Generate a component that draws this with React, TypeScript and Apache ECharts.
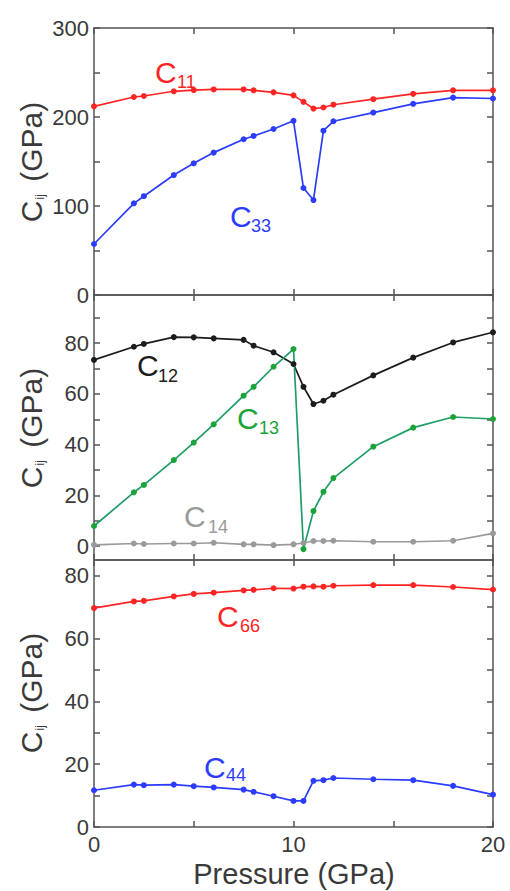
import React, { useEffect, useRef } from 'react';
import * as echarts from 'echarts';

const pressure = [0, 2, 2.5, 4, 5, 6, 7.5, 8, 9, 10, 10.5, 11, 11.5, 12, 14, 16, 18, 20];
const c11 = [212, 222.5, 223.6, 228.9, 230.3, 231, 231, 230, 227.7, 224.3, 217, 209.5, 210.7, 213.8, 220, 226, 230, 230];
const c33 = [57.3, 103, 111, 134.8, 148, 160, 175, 178.7, 186.5, 195.7, 120.2, 106.7, 184.6, 195.2, 205, 214.8, 221.8, 220.8];
const c12 = [73.4, 78.6, 79.7, 82.4, 82.3, 81.9, 81.3, 79, 76.4, 71.8, 62.8, 56, 57.3, 59.7, 67.3, 74.3, 80.3, 84.3];
const c13 = [7.9, 21.2, 24.1, 33.9, 40.8, 48, 59.3, 62.8, 70.7, 77.7, -1.2, 13.8, 21.4, 26.8, 39.2, 46.7, 50.9, 50.1];
const c14 = [0.5, 1.0, 0.8, 1.0, 1.0, 1.3, 0.7, 0.7, 0.4, 0.7, 1.2, 2.0, 2.0, 2.1, 1.7, 1.7, 2.1, 5.0];
const c66 = [69.7, 71.8, 72, 73.4, 74.2, 74.6, 75.3, 75.5, 76, 75.9, 76.5, 76.6, 76.5, 76.8, 77, 77, 76.4, 75.6];
const c44 = [11.7, 13.5, 13.3, 13.5, 13, 12.6, 11.9, 11.2, 9.8, 8.3, 8.3, 14.7, 14.9, 15.6, 15.2, 14.9, 13.1, 10.3];

const xTicks = [0, 5, 10, 15, 20];
const xLabels = [0, 10, 20];
const yRanges = [
  [0, 300],
  [-5.5, 99],
  [0, 85],
];
const yLabelValues = [
  [0, 100, 200, 300],
  [0, 20, 40, 60, 80],
  [0, 20, 40, 60, 80],
];
const yTickValues = [
  [0, 50, 100, 150, 200, 250, 300],
  [0, 10, 20, 30, 40, 50, 60, 70, 80, 90],
  [0, 10, 20, 30, 40, 50, 60, 70, 80],
];

const FONT = '"Liberation Sans", Arial, Helvetica, sans-serif';
const TEXT = '#3a3a3a';
const FRAME = '#555';

const RED = '#ff2424';
const BLUE = '#2b3cff';
const BLACK = '#1c1c1c';
const GREEN_LINE = '#1f9e66';
const GREEN_DOT = '#1aa336';
const GRAY = '#9a9a9a';

export default function App() {
  const ref = useRef<HTMLDivElement>(null);
  useEffect(() => {
    if (!ref.current) return;
    const chart = echarts.init(ref.current, undefined, { renderer: 'svg' });

    const grids = [
      { left: 94, right: 17, top: 28, height: 267 },
      { left: 94, right: 17, top: 295, height: 265 },
      { left: 94, right: 17, top: 560, height: 267 },
    ];

    const axisLine = { show: true, onZero: false, lineStyle: { color: FRAME, width: 1.5 } };

    const xAxis: any[] = [];
    const yAxis: any[] = [];
    grids.forEach((_, gi) => {
      ['bottom', 'top'].forEach((pos) => {
        xAxis.push({
          type: 'value',
          gridIndex: gi,
          position: pos,
          min: 0,
          max: 20,
          axisLine,
          axisTick: { show: true, inside: true, length: 6, customValues: xTicks, lineStyle: { color: FRAME, width: 1.5 } },
          axisLabel: {
            show: gi === 2 && pos === 'bottom',
            customValues: xLabels,
            fontSize: 22,
            fontFamily: FONT,
            color: TEXT,
            margin: 6,
            lineHeight: 22,
          },
          splitLine: { show: false },
        });
      });
      ['left', 'right'].forEach((pos) => {
        yAxis.push({
          type: 'value',
          gridIndex: gi,
          position: pos,
          min: yRanges[gi][0],
          max: yRanges[gi][1],
          axisLine,
          axisTick: { show: true, inside: true, length: 6, customValues: yTickValues[gi], lineStyle: { color: FRAME, width: 1.5 } },
          axisLabel: {
            show: pos === 'left',
            customValues: yLabelValues[gi],
            fontSize: 22,
            fontFamily: FONT,
            color: TEXT,
            margin: 5,
          },
          splitLine: { show: false },
        });
      });
    });

    const mk = (name: string, vals: number[], gi: number, lineColor: string, dotColor: string) => ({
      name,
      type: 'line',
      xAxisIndex: gi * 2,
      yAxisIndex: gi * 2,
      data: pressure.map((p, i) => [p, vals[i]]),
      symbol: 'circle',
      symbolSize: 6,
      showSymbol: true,
      showAllSymbol: true,
      lineStyle: { color: lineColor, width: 1.7 },
      itemStyle: { color: dotColor },
      z: 3,
    });

    const series = [
      mk('C11', c11, 0, RED, RED),
      mk('C33', c33, 0, BLUE, BLUE),
      mk('C14', c14, 1, GRAY, GRAY),
      mk('C12', c12, 1, BLACK, BLACK),
      mk('C13', c13, 1, GREEN_LINE, GREEN_DOT),
      mk('C66', c66, 2, RED, RED),
      mk('C44', c44, 2, BLUE, BLUE),
    ];

    const lbl = (x: number, y: number, sx: number, sy: number, sub: string, color: string) => [
      {
        type: 'text',
        x,
        y,
        style: { text: 'C', fontSize: 30, fontFamily: FONT, fill: color, align: 'left', verticalAlign: 'middle' },
        z: 10,
      },
      {
        type: 'text',
        x: sx,
        y: sy,
        style: { text: sub, fontSize: 18, fontFamily: FONT, fill: color, align: 'left', verticalAlign: 'middle' },
        z: 10,
      },
    ];

    const ytitle = (cy: number) => ({
      type: 'text',
      x: 31,
      y: cy,
      rotation: Math.PI / 2,
      style: {
        text: '{c|C}{s|ij}{c| (GPa)}',
        align: 'center',
        verticalAlign: 'middle',
        fill: TEXT,
        fontFamily: FONT,
        rich: {
          c: { fontSize: 30, fontFamily: FONT, fill: TEXT, lineHeight: 30 },
          s: { fontSize: 12, fontFamily: FONT, fill: TEXT, lineHeight: 12, verticalAlign: 'bottom', padding: [0, 4, 0, 1] },
        },
      },
      z: 10,
    });

    const graphic: any[] = [
      ...lbl(155, 72.5, 177, 82, '11', RED),
      ...lbl(230, 216.5, 251, 226, '33', BLUE),
      ...lbl(137, 365, 158, 375.5, '12', BLACK),
      ...lbl(237, 418, 259, 428, '13', GREEN_DOT),
      ...lbl(184, 516.5, 208, 526.5, '14', GRAY),
      ...lbl(217, 616, 240, 626, '66', RED),
      ...lbl(204, 767.5, 226, 775, '44', BLUE),
      ytitle(162),
      ytitle(428),
      ytitle(693),
      {
        type: 'text',
        x: 294,
        y: 874,
        style: {
          text: 'Pressure (GPa)',
          fontSize: 29,
          fontFamily: FONT,
          fill: TEXT,
          align: 'center',
          verticalAlign: 'middle',
        },
        z: 10,
      },
    ];

    chart.setOption({
      animation: false,
      backgroundColor: '#ffffff',
      grid: grids,
      xAxis,
      yAxis,
      series,
      graphic,
    });
    return () => chart.dispose();
  }, []);
  return <div ref={ref} style={{ position: 'fixed', left: 0, top: 0, width: 510, height: 891 }} />;
}
